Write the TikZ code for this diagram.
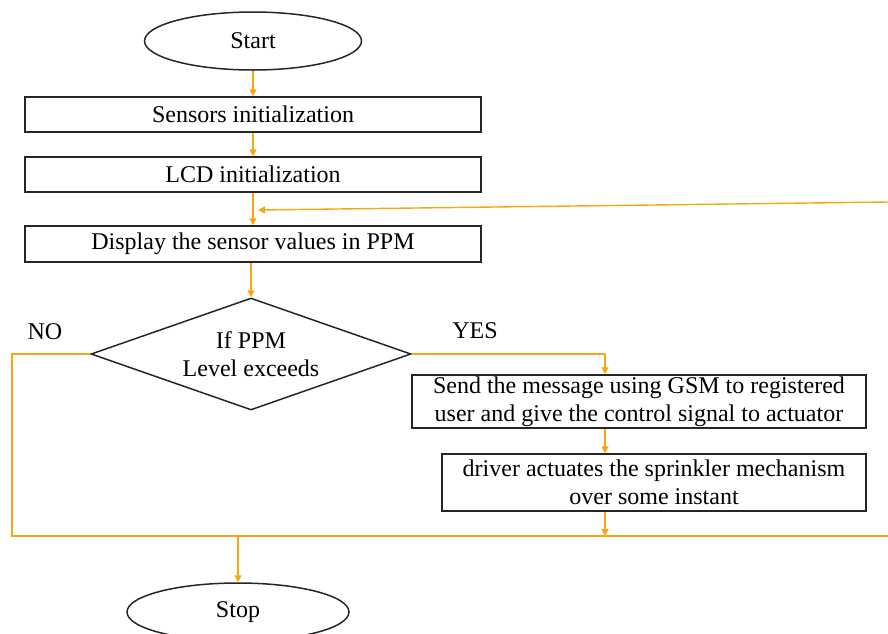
\documentclass[tikz,border=0pt]{standalone}
\usepackage{fontspec}
\setmainfont{Liberation Serif}
\usetikzlibrary{shapes.geometric,arrows.meta}
\definecolor{flow}{RGB}{250,165,20}
\tikzset{
  box/.style={draw=black!85, line width=1.5pt, rectangle, inner sep=0pt, align=center},
  term/.style={draw=black!85, line width=1.5pt, ellipse, inner sep=0pt},
  dec/.style={draw=black!85, line width=1.5pt, diamond, aspect=2.86, inner sep=0pt, align=center, minimum width=320pt, minimum height=112pt},
  link/.style={draw=flow, line width=1.4pt},
  arr/.style={link, -{Triangle[length=7pt,width=7pt]}},
  lbl/.style={inner sep=0pt}
}
\begin{document}
\begin{tikzpicture}[x=1pt,y=-1pt,font=\fontsize{24}{28}\selectfont]
\useasboundingbox (0,0) rectangle (888,633);
\node[term, minimum width=217pt, minimum height=58pt] (start) at (253,41) {Start};
\node[box, minimum width=456pt, minimum height=35pt] (sens) at (253,114.5) {Sensors initialization};
\node[box, minimum width=456pt, minimum height=35pt] (lcd) at (253,174.5) {LCD initialization};
\node[box, minimum width=456pt, minimum height=36pt] (disp) at (253,244) {Display the sensor values in PPM};
\node[dec] (dec) at (251,354) {If PPM\\Level exceeds};
\node[box, minimum width=454pt, minimum height=53pt] (send) at (639,401.5) {Send the message using GSM to registered\\user and give the control signal to actuator};
\node[box, minimum width=424pt, minimum height=57pt] (drv) at (654,482.5) {driver actuates the sprinkler mechanism\\over some instant};
\node[term, minimum width=222pt, minimum height=58pt] (stop) at (238,612) {Stop};
\node[lbl] (yes) at (475,331) {YES};
\node[lbl] (no) at (45,332) {NO};
% coordinates
\coordinate (ycol) at (605,0);
\coordinate (lcol) at (12,0);
\coordinate (bl) at (12,536);
\coordinate (br) at (888,536);
\coordinate (bm) at (238,536);
\coordinate (bd) at (605,536);
\coordinate (fr) at (888,202);
\coordinate (fl) at (258,210);
% connectors
\draw[arr] (start.south) -- (sens.north);
\draw[arr] (sens.south) -- (lcd.north);
\draw[arr] (lcd.south) -- (disp.north);
\draw[arr] ([xshift=-2pt]disp.south) -- (dec.north);
\draw[link] (dec.east) -- (dec.east -| ycol) coordinate (yc);
\draw[arr] (yc) -- (yc |- send.north);
\draw[arr] (yc |- send.south) -- (yc |- drv.north);
\draw[arr] (yc |- drv.south) -- (bd);
\draw[link] (dec.west) -- (dec.west -| lcol) -- (bl) -- (br);
\draw[arr] (bm) -- (stop.north);
\draw[arr] (fr) -- (fl);
\end{tikzpicture}
\end{document}
